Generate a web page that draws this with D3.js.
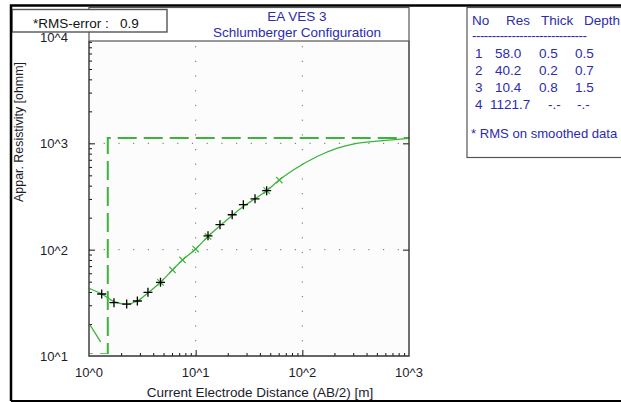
<!DOCTYPE html>
<html>
<head>
<meta charset="utf-8">
<script src="https://cdn.jsdelivr.net/npm/d3@7"></script>
<style>
  html, body { margin: 0; padding: 0; background: #ffffff; }
  svg { display: block; }
  text { font-family: "Liberation Sans", Arial, sans-serif; font-size: 13.5px; }
  text.tick { font-size: 13px; }
  text.ytitle { font-size: 12.4px; }
  text.note { font-size: 13.1px; }
</style>
</head>
<body>
<svg id="chart" width="621" height="402"></svg>
<script>
// Layered earth model (Schlumberger sounding)
const layerNo    = [1, 2, 3, 4];
const layerRes   = [58.0, 40.2, 10.4, 1121.7];
const layerThick = [0.5, 0.2, 0.8];
const layerDepth = [0.5, 0.7, 1.5];

// Field measurements: AB/2 [m] and apparent resistivity [ohmm]
const obsAB  = [1.315, 1.714, 2.256, 2.84, 3.57, 4.68, 13.05, 16.9, 22.0, 28.0, 36.0, 46.3];
const obsRho = [38.3, 31.7, 30.8, 32.9, 39.7, 49.3, 135, 171.8, 213, 265, 301, 359];

// Calculated response of the model
const fitAB  = [1, 1.315, 1.714, 2.256, 2.84, 3.57, 4.68, 6.06, 7.53, 10, 13.05, 16.9, 22.0, 28.0, 36.0, 46.3, 60.8, 82.3, 136, 210, 323, 571, 1000];
const fitRho = [43.3, 38.3, 32.5, 30.8, 32.9, 39.2, 49.3, 64.4, 80, 101.4, 133, 168, 210, 255, 301, 359, 452, 561, 748, 897, 1000, 1059, 1115];

// Sampled response points marked with crosses
const markAB  = [4.68, 6.06, 7.53, 10, 13.05, 46.3, 60.8];
const markRho = [49.3, 64.4, 80, 101.4, 133, 359, 452];

// Smoothed data branch at short spacings
const smoothAB  = [1, 1.287];
const smoothRho = [20.3, 13.6];

const xTickVals = [1, 10, 100, 1000];
const xTickText = ["10^0", "10^1", "10^2", "10^3"];
const yTickVals = [10, 100, 1000, 10000];
const yTickText = ["10^1", "10^2", "10^3", "10^4"];

const rmsError = 0.9;
const titleLines = ["EA VES 3", "Schlumberger Configuration"];

const svg = d3.select("#chart");
const left = 89, right = 409, plotTop = 41, bottom = 356;

const x = d3.scaleLog().domain([1, 1000]).range([left, right]);
const y = d3.scaleLog().domain([10, 10000]).range([bottom, 37]);

const green = "#3cb43c";
const ink = "#1c1c2c";
const blue = "#2b2bb0";
const frameGrey = "#555555";

// outer panel
svg.append("rect").attr("x", 0).attr("y", 0).attr("width", 621).attr("height", 402).attr("fill", "#ffffff");
svg.append("rect").attr("x", left).attr("y", plotTop).attr("width", right - left).attr("height", bottom - plotTop)
  .attr("fill", "#fcfcfc");

// dotted grid at the inner decades
const grid = svg.append("g").attr("stroke", "#6a6a6a").attr("stroke-width", 1).attr("stroke-dasharray", "1.2,13.5");
[10, 100].forEach(v => {
  grid.append("line").attr("x1", x(v)).attr("x2", x(v)).attr("y1", bottom).attr("y2", plotTop);
});
[100, 1000].forEach(v => {
  grid.append("line").attr("y1", y(v)).attr("y2", y(v)).attr("x1", left).attr("x2", right);
});

// ticks: minor on left / bottom, major on all sides
const minorX = [];
[1, 10, 100].forEach(d => { for (let k = 2; k <= 9; k++) minorX.push(d * k); });
const minorY = [];
[10, 100, 1000].forEach(d => { for (let k = 2; k <= 9; k++) minorY.push(d * k); });

function axisG(axis, tr) {
  const g = svg.append("g").attr("transform", tr).call(axis);
  g.select(".domain").remove();
  g.selectAll("line").attr("stroke", "#111").attr("stroke-width", 1);
  g.selectAll("text").remove();
  return g;
}
axisG(d3.axisTop(x).tickValues(minorX).tickSize(3).tickSizeOuter(0).tickFormat(""), `translate(0,${bottom})`);
axisG(d3.axisTop(x).tickValues([10, 100]).tickSize(6).tickSizeOuter(0).tickFormat(""), `translate(0,${bottom})`);
axisG(d3.axisRight(y).tickValues(minorY.filter(v => y(v) > plotTop)).tickSize(3).tickSizeOuter(0).tickFormat(""), `translate(${left},0)`);
axisG(d3.axisRight(y).tickValues([100, 1000]).tickSize(6).tickSizeOuter(0).tickFormat(""), `translate(${left},0)`);
axisG(d3.axisLeft(y).tickValues([100, 1000]).tickSize(6).tickSizeOuter(0).tickFormat(""), `translate(${right},0)`);

// data layers, clipped to the plot area
svg.append("clipPath").attr("id", "plotClip").append("rect")
  .attr("x", left + 0.5).attr("y", plotTop).attr("width", right - left).attr("height", bottom - plotTop - 2);
const plot = svg.append("g").attr("clip-path", "url(#plotClip)");

// model step curve built from the layer table
const stepPts = [];
let prev = 0.1;
layerRes.forEach((r, i) => {
  const next = i < layerDepth.length ? layerDepth[i] : 1e5;
  stepPts.push([prev, r], [next, r]);
  prev = next;
});
const stepVisible = stepPts.filter(p => p[0] >= 0.7);
stepVisible[0] = [1, stepVisible[0][1]];
plot.append("path")
  .datum(stepVisible)
  .attr("d", d3.line().x(d => x(d[0])).y(d => y(d[1])))
  .attr("fill", "none").attr("stroke", green).attr("stroke-width", 2)
  .attr("stroke-dasharray", "19,7").attr("stroke-dashoffset", 12);

const line = d3.line().x(d => x(d[0])).y(d => y(d[1])).curve(d3.curveMonotoneX);
plot.append("path").datum(d3.zip(fitAB, fitRho)).attr("d", line)
  .attr("fill", "none").attr("stroke", green).attr("stroke-width", 1.3);
plot.append("path").datum(d3.zip(smoothAB, smoothRho)).attr("d", d3.line().x(d => x(d[0])).y(d => y(d[1])))
  .attr("fill", "none").attr("stroke", green).attr("stroke-width", 1.3);

// cross markers on the calculated curve
const xm = 3.2;
plot.selectAll("path.xmark").data(d3.zip(markAB, markRho)).join("path")
  .attr("class", "xmark")
  .attr("d", d => {
    const cx = x(d[0]), cy = y(d[1]);
    return `M${cx - xm},${cy - xm}L${cx + xm},${cy + xm}M${cx - xm},${cy + xm}L${cx + xm},${cy - xm}`;
  })
  .attr("stroke", green).attr("stroke-width", 1.2).attr("fill", "none");

// plus markers for the measurements
const pm = 4.5;
plot.selectAll("path.obs").data(d3.zip(obsAB, obsRho)).join("path")
  .attr("class", "obs")
  .attr("d", d => {
    const cx = x(d[0]), cy = y(d[1]);
    return `M${cx - pm},${cy}L${cx + pm},${cy}M${cx},${cy - pm}L${cx},${cy + pm}`;
  })
  .attr("stroke", "#000").attr("stroke-width", 1.3).attr("fill", "none");

// plot frame
svg.append("path")
  .attr("d", `M${left},${plotTop}V${bottom}H${right}V${plotTop}`)
  .attr("fill", "none").attr("stroke", "#333").attr("stroke-width", 1.4);

// tick labels
svg.selectAll("text.xl").data(xTickVals).join("text").attr("class", "xl tick")
  .attr("x", d => x(d)).attr("y", 377).attr("text-anchor", "middle").attr("fill", ink)
  .text((d, i) => xTickText[i]);
svg.selectAll("text.yl").data(yTickVals).join("text").attr("class", "yl tick")
  .attr("x", 54).attr("y", d => y(d) + 5).attr("text-anchor", "middle").attr("fill", ink)
  .text((d, i) => yTickText[i]);

// axis titles
svg.append("text").attr("x", 260).attr("y", 397).attr("text-anchor", "middle").attr("fill", ink)
  .text("Current Electrode Distance (AB/2) [m]");
svg.append("text").attr("class", "ytitle").attr("transform", "translate(23,132) rotate(-90)")
  .attr("text-anchor", "middle").attr("fill", ink)
  .text("Appar. Resistivity [ohmm]");

// title box
svg.append("rect").attr("x", left).attr("y", 7.5).attr("width", right - left).attr("height", plotTop - 7.5)
  .attr("fill", "#ffffff").attr("stroke", frameGrey).attr("stroke-width", 1.2);
svg.append("text").attr("x", 297).attr("y", 20.5).attr("text-anchor", "middle").attr("fill", blue).text(titleLines[0]);
svg.append("text").attr("x", 297).attr("y", 37).attr("text-anchor", "middle").attr("fill", blue).text(titleLines[1]);

// RMS box
svg.append("rect").attr("x", 12).attr("y", 9.5).attr("width", 155).attr("height", 22.5)
  .attr("fill", "#ffffff").attr("stroke", frameGrey).attr("stroke-width", 1.4);
svg.append("text").attr("x", 33).attr("y", 28).attr("fill", "#111").text("*RMS-error :");
svg.append("text").attr("x", 120).attr("y", 28).attr("fill", "#111").text(rmsError.toFixed(1));

// layer table
svg.append("rect").attr("x", 467).attr("y", 7.5).attr("width", 170).attr("height", 150)
  .attr("fill", "#ffffff").attr("stroke", frameGrey).attr("stroke-width", 1.2);
const tbl = svg.append("g").attr("fill", blue);
[["No", 472], ["Res", 506], ["Thick", 541], ["Depth", 584]].forEach(([t, cx]) => {
  tbl.append("text").attr("x", cx).attr("y", 24.5).text(t);
});
tbl.append("text").attr("x", 472).attr("y", 40).attr("textLength", 115).attr("lengthAdjust", "spacing")
  .text("-".repeat(29));
layerNo.forEach((n, i) => {
  const by = 57.5 + i * 17;
  tbl.append("text").attr("x", 475).attr("y", by).text(n);
  const resTxt = layerRes[i].toFixed(1);
  tbl.append("text").attr("x", resTxt.length > 4 ? 490 : 495).attr("y", by).text(resTxt);
  tbl.append("text").attr("x", i < layerThick.length ? 539 : 548).attr("y", by)
    .text(i < layerThick.length ? layerThick[i].toFixed(1) : "-.-");
  tbl.append("text").attr("x", i < layerDepth.length ? 575 : 577).attr("y", by)
    .text(i < layerDepth.length ? layerDepth[i].toFixed(1) : "-.-");
});
tbl.append("text").attr("class", "note").attr("x", 471).attr("y", 138).text("* RMS on smoothed data");

// outer frame
svg.append("path").attr("d", "M11,401V5.5H621").attr("fill", "none").attr("stroke", "#000").attr("stroke-width", 2.5);
svg.append("line").attr("x1", 11).attr("x2", 621).attr("y1", 401).attr("y2", 401).attr("stroke", "#000").attr("stroke-width", 2);
</script>
</body>
</html>
